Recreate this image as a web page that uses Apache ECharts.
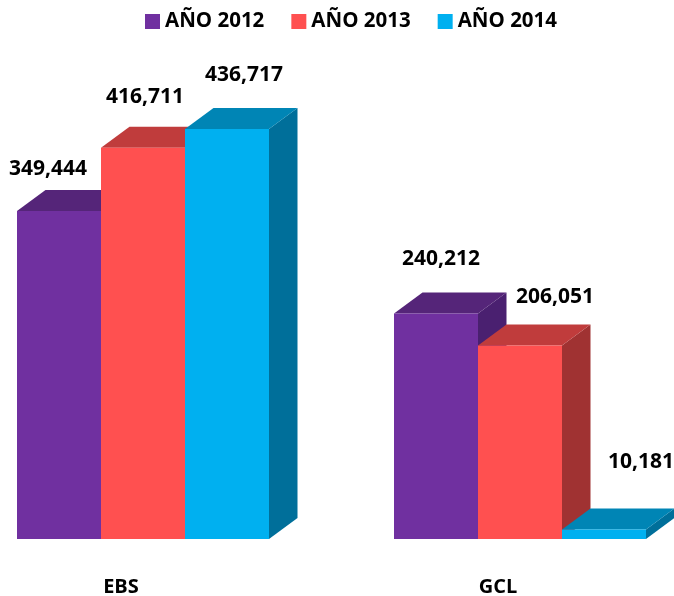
<!DOCTYPE html>
<html><head><meta charset="utf-8">
<style>html,body{margin:0;padding:0;background:#fff}#c{width:674px;height:596px}</style>
<script src="https://cdn.jsdelivr.net/npm/echarts@6/dist/echarts.min.js"></script>
</head><body><div id="c"></div>
<script>
const categories = ['EBS', 'GCL'];
const ano2012 = [349444, 240212];
const ano2013 = [416711, 206051];
const ano2014 = [436717, 10181];
const seriesNames = ['AÑO 2012', 'AÑO 2013', 'AÑO 2014'];
const seriesValues = [ano2012, ano2013, ano2014];

const palette = [
  {front: '#7030A0', top: '#552579', side: '#4A2070'},
  {front: '#FF5050', top: '#C03C3C', side: '#A03232'},
  {front: '#00B0F0', top: '#0085B5', side: '#006F9A'}
];
// label displacement from each bar's front-top centre, [series][category]
const labelShift = [
  [[-11, -42], [5, -54]],
  [[2, -51], [35, -49]],
  [[17, -54], [37, -67]]
];
const DX = 28.5, DY = 21, FONT = '"Open Sans", sans-serif';
const BAR_FRACTION = 84 / 377;

function renderBar(si) {
  return function (params, api) {
    const cat = api.value(0), val = api.value(1);
    const base = api.coord([cat, 0]), topPt = api.coord([cat, val]);
    const band = api.size([1, 0])[0];
    const w = band * BAR_FRACTION;
    const x0 = base[0] + (si - 1.5) * w, x1 = x0 + w, yB = base[1], yT = topPt[1];
    const c = palette[si], s = labelShift[si][cat];
    return {
      type: 'group',
      children: [
        {type: 'polygon', shape: {points: [[x1, yB], [x1 + DX, yB - DY], [x1 + DX, yT - DY], [x1, yT]]}, style: {fill: c.side}},
        {type: 'polygon', shape: {points: [[x0, yT], [x0 + DX, yT - DY], [x1 + DX, yT - DY], [x1, yT]]}, style: {fill: c.top}},
        {type: 'rect', shape: {x: x0, y: yT, width: w, height: yB - yT}, style: {fill: c.front}},
        {type: 'text', z2: 100, style: {
          x: x0 + w / 2 + s[0], y: yT + s[1],
          text: val.toLocaleString('en-US'),
          font: 'bold 21px ' + FONT, fill: '#000', textAlign: 'center', textVerticalAlign: 'middle'
        }}
      ]
    };
  };
}

const chart = echarts.init(document.getElementById('c'), null, {renderer: 'canvas'});
chart.setOption({
  animation: false,
  backgroundColor: '#fff',
  color: palette.map(p => p.front),
  legend: {
    left: 145, top: 11, padding: 0, itemWidth: 15, itemHeight: 15, itemGap: 27, icon: 'rect',
    textStyle: {fontFamily: FONT, fontWeight: 'bold', fontSize: 20.5, color: '#000'},
    itemStyle: {borderWidth: 0},
    data: seriesNames
  },
  grid: {left: -45.5, width: 754, top: 39, height: 500, containLabel: false, outerBoundsMode: 'none'},
  xAxis: {
    type: 'category', data: categories,
    axisLine: {show: false}, axisTick: {show: false},
    axisLabel: {fontFamily: FONT, fontWeight: 'bold', fontSize: 20, color: '#000', margin: 38, padding: [0, 44, 0, 0]}
  },
  yAxis: {type: 'value', min: 0, max: 532500, show: false},
  series: seriesNames.map((name, si) => ({
    name, type: 'custom', clip: false, z: 2 + si,
    renderItem: renderBar(si),
    encode: {x: 0, y: 1},
    itemStyle: {color: palette[si].front},
    data: categories.map((c, i) => [i, seriesValues[si][i]])
  }))
});
</script></body></html>
